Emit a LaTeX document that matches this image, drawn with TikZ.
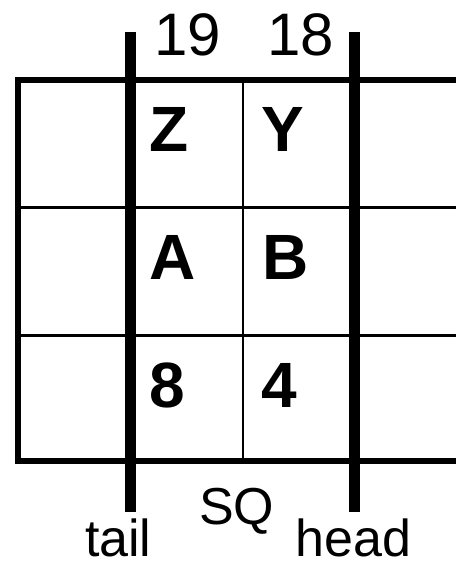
\documentclass[tikz,border=0pt]{standalone}
\usepackage{fontspec}
\setmainfont{Liberation Sans}
\tikzset{
  border/.style={line width=6.5pt, line cap=butt},
  thinline/.style={line width=2.3pt},
  bar/.style={line width=11pt, line cap=butt},
  numlbl/.style={font=\fontsize{60}{72}\selectfont, anchor=base, inner sep=0pt},
  cell/.style={font=\fontsize{64}{76}\bfseries\selectfont, anchor=base, inner sep=0pt},
  sidelbl/.style={font=\fontsize{52}{62}\selectfont, anchor=base, inner sep=0pt, text depth=0pt}
}
\begin{document}
\begin{tikzpicture}[x=1pt,y=-1pt]
\useasboundingbox (0,0) rectangle (456,562);
% grid coordinates
\coordinate (tl) at (18,80);
\coordinate (tr) at (456,80);
\coordinate (bl) at (18,461);
\coordinate (br) at (456,461);
% thin lines
\draw[thinline] (18,207.5) -- (456,207.5);
\draw[thinline] (18,335.5) -- (456,335.5);
\draw[thinline] (243,80) -- (243,461);
% border
\draw[border] (tr) -- ([xshift=-3.25pt]tl) ;
\draw[border] ([yshift=-3.25pt]tl) -- ([yshift=3.25pt]bl);
\draw[border] ([xshift=-3.25pt]bl) -- (br);
% thick bars
\coordinate (tailtop) at (130.5,32);
\coordinate (tailbot) at (130.5,511.5);
\coordinate (headtop) at (354.5,32);
\coordinate (headbot) at (354.5,511.5);
\draw[bar] (tailtop) -- (tailbot);
\draw[bar] (headtop) -- (headbot);
% labels
\node[numlbl] (n19) at (188,55) {19};
\node[numlbl] (n18) at (300.5,55) {18};
\node[cell] (z) at (169.5,151.7) {Z};
\node[cell] (y) at (283.3,151.7) {Y};
\node[cell] (a) at (173,279) {A};
\node[cell] (b) at (285.3,279) {B};
\node[cell] (e8) at (167.5,407.5) {8};
\node[cell] (f4) at (279.5,407.5) {4};
\node[sidelbl] (sq) at (236.7,524.5) {SQ};
\node[sidelbl] (tail) at (118.3,556.7) {tail};
\node[sidelbl] (head) at (353.3,556.7) {head};
\end{tikzpicture}
\end{document}
